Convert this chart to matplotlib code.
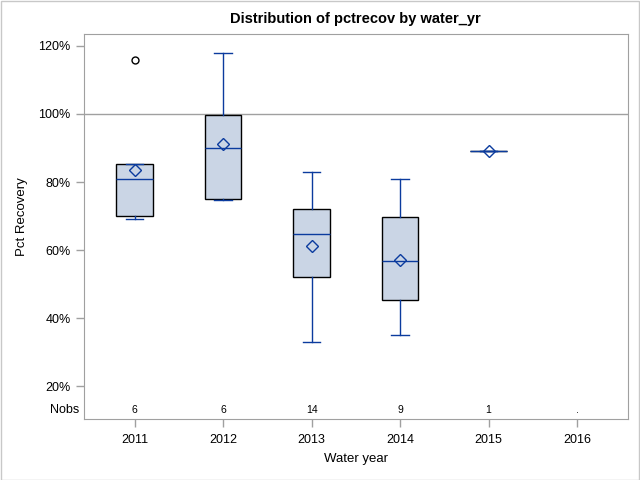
import matplotlib
matplotlib.use("Agg")
import matplotlib.pyplot as plt
from matplotlib.patches import Rectangle

plt.rcParams['font.family'] = ['Liberation Sans', 'DejaVu Sans']

years = ['2011', '2012', '2013', '2014', '2015', '2016']
nobs = ['6', '6', '14', '9', '1', '.']
# box stats (percent)
whislo = [69.0, 74.6, 32.9, 34.9, 89.0]
q1 = [69.9, 74.9, 52.0, 45.2, 89.0]
med = [80.8, 89.9, 64.6, 56.8, 89.0]
q3 = [85.4, 99.8, 72.0, 69.6, 89.0]
whishi = [85.4, 117.9, 82.9, 80.8, 89.0]
means = [83.5, 91.1, 61.1, 57.0, 89.0]
fliers = [[115.8], [], [], [], []]

fill = '#CAD5E5'
blue = '#0B3B9E'
grey = '#A0A0A0'

stats = []
for i in range(len(med)):
    stats.append(dict(whislo=whislo[i], q1=q1[i], med=med[i], q3=q3[i],
                      whishi=whishi[i], mean=means[i], fliers=fliers[i]))

fig = plt.figure(figsize=(6.4, 4.8), dpi=100)
ax = fig.add_axes([0.1308, 0.127, 0.8505, 0.802])

ax.axhline(100, color=grey, lw=1, zorder=1)

ax.bxp(stats, positions=range(len(med)), widths=0.41, patch_artist=True,
       showmeans=True, manage_ticks=False,
       boxprops=dict(facecolor=fill, edgecolor='black', lw=1.0),
       medianprops=dict(color=blue, lw=1.0),
       whiskerprops=dict(color=blue, lw=1.0),
       capprops=dict(color=blue, lw=1.0),
       capwidths=0.2,
       meanprops=dict(marker='D', markerfacecolor='none', markeredgecolor=blue,
                      markersize=6, markeredgewidth=1.0),
       flierprops=dict(marker='o', markerfacecolor='none', markeredgecolor='black',
                       markersize=5, markeredgewidth=1.0),
       zorder=3)

ax.set_xlim(-0.575, 5.575)
ax.set_ylim(10.3, 123.5)
ax.set_xticks(range(len(years)))
ax.set_xticklabels(years)
ax.set_yticks([20, 40, 60, 80, 100, 120])
ax.set_yticklabels(['20%', '40%', '60%', '80%', '100%', '120%'])
ax.tick_params(colors=grey, labelcolor='black', labelsize=9, length=6, width=1)
ax.tick_params(axis='x', pad=5)
for s in ax.spines.values():
    s.set_color(grey)

# Nobs row
for i, n in enumerate(nobs):
    ax.text(i, 13, n, ha='center', va='center', fontsize=7.5)
ax.text(-0.63, 13, 'Nobs', ha='right', va='center', fontsize=9)

ax.set_xlabel('Water year', fontsize=9.5, labelpad=5)
ax.set_ylabel('Pct Recovery', fontsize=9.5)
ax.yaxis.set_label_coords(-0.102, 0.525)
fig.suptitle('Distribution of pctrecov by water_yr', fontsize=10.5,
             fontweight='bold', x=0.556, y=0.975)

fig.patches.append(Rectangle((0.001, 0.001), 0.997, 0.997, transform=fig.transFigure,
                             fill=False, edgecolor='#C8C8C8', lw=1))

fig.savefig('out.png', dpi=100)
